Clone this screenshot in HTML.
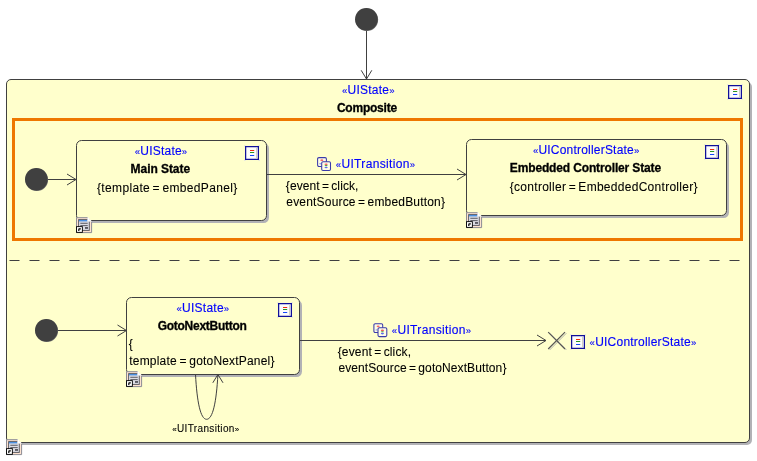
<!DOCTYPE html>
<html lang="en"><head><meta charset="utf-8"><title>UI State Diagram</title>
<style>html,body{margin:0;padding:0;background:#fff;overflow:hidden}svg{display:block;will-change:transform}text{font-family:'Liberation Sans',sans-serif;white-space:pre}</style></head><body>
<svg width="757" height="461" viewBox="0 0 757 461">
<rect width="757" height="461" fill="#ffffff"/>
<circle cx="366.85" cy="19.7" r="11.3" fill="#6c6c6c"/><circle cx="366.35" cy="19.2" r="11.3" fill="#404040"/>
<line x1="366.5" y1="31" x2="366.5" y2="79" stroke="#404040" stroke-width="1"/>
<polyline points="361.2,70.3 366.5,79 371.8,70.3" fill="none" stroke="#404040" stroke-width="1"/>
<rect x="9.0" y="82.0" width="743" height="363" rx="5.0" fill="#b2b2b6"/><rect x="6.5" y="79.5" width="743" height="363" rx="4.5" fill="#FFFFCC" stroke="#404040" stroke-width="1"/>
<text x="341.9" y="93.5" font-size="12" fill="#0000ff" stroke="#0000ff" stroke-width="0.14" textLength="52.7" lengthAdjust="spacing"><tspan font-size="9.6">«</tspan>UIState<tspan font-size="9.6">»</tspan></text>
<text x="336.9" y="111.5" font-size="12" fill="#000" stroke="#000" stroke-width="0.3" font-weight="bold" textLength="60.2" lengthAdjust="spacing">Composite</text>
<g transform="translate(727,84)"><rect x="0.2" y="0.2" width="1.3" height="1.3" fill="#dcdce8"/><rect x="14.5" y="0.2" width="1.3" height="1.3" fill="#dcdce8"/><rect x="0.2" y="14.5" width="1.3" height="1.3" fill="#dcdce8"/><rect x="14.5" y="14.5" width="1.3" height="1.3" fill="#dcdce8"/><rect x="1.62" y="1.62" width="12.76" height="12.76" fill="#fcfcfc" stroke="#10109a" stroke-width="1.25"/><rect x="12" y="2.6" width="1" height="10.8" fill="#d2d0c4"/><rect x="6" y="5" width="4.2" height="1" fill="#f02c0c"/><rect x="6" y="7" width="4.2" height="1" fill="#2a9820"/><rect x="6" y="10" width="4.2" height="1" fill="#1446f8"/></g>
<rect x="13.5" y="119.5" width="728" height="120" fill="none" stroke="#ee7700" stroke-width="3"/>
<line x1="9.5" y1="260.5" x2="742" y2="260.5" stroke="#404040" stroke-width="1" stroke-dasharray="10 10"/>
<circle cx="36.8" cy="179.7" r="11.3" fill="#6c6c6c"/><circle cx="36.3" cy="179.2" r="11.3" fill="#404040"/>
<line x1="48" y1="179.5" x2="76" y2="179.5" stroke="#404040" stroke-width="1"/>
<polyline points="67,174 76,179.5 67,185" fill="none" stroke="#404040" stroke-width="1"/>
<rect x="79.0" y="143.0" width="190" height="80" rx="5.5" fill="#b2b2b6"/><rect x="76.5" y="140.5" width="190" height="80" rx="5" fill="#FFFFCC" stroke="#404040" stroke-width="1"/>
<text x="134.8" y="155.2" font-size="12" fill="#0000ff" stroke="#0000ff" stroke-width="0.14" textLength="52.4" lengthAdjust="spacing"><tspan font-size="9.6">«</tspan>UIState<tspan font-size="9.6">»</tspan></text>
<text x="130.6" y="172.8" font-size="12" fill="#000" stroke="#000" stroke-width="0.3" font-weight="bold" textLength="59.5" lengthAdjust="spacing">Main State</text>
<text x="97" y="191.5" font-size="12" fill="#000" stroke="#000" stroke-width="0.08" textLength="140.3" lengthAdjust="spacing" style="word-spacing:-1.2px">{template = embedPanel}</text>
<g transform="translate(244,145)"><rect x="0.2" y="0.2" width="1.3" height="1.3" fill="#dcdce8"/><rect x="14.5" y="0.2" width="1.3" height="1.3" fill="#dcdce8"/><rect x="0.2" y="14.5" width="1.3" height="1.3" fill="#dcdce8"/><rect x="14.5" y="14.5" width="1.3" height="1.3" fill="#dcdce8"/><rect x="1.62" y="1.62" width="12.76" height="12.76" fill="#fcfcfc" stroke="#10109a" stroke-width="1.25"/><rect x="12" y="2.6" width="1" height="10.8" fill="#d2d0c4"/><rect x="6" y="5" width="4.2" height="1" fill="#f02c0c"/><rect x="6" y="7" width="4.2" height="1" fill="#2a9820"/><rect x="6" y="10" width="4.2" height="1" fill="#1446f8"/></g>
<g transform="translate(76,217)"><path d="M0.5,0.7 H12 L15.6,4.2 V15.6 H0.5 Z" fill="#fde2d0"/><path d="M12,0.7 H0.5 V15.6 H15.6 V4.2" fill="none" stroke="#8c8c94" stroke-width="1"/><rect x="2.6" y="2.6" width="10.7" height="10.8" fill="#dcdce4" stroke="#55555c" stroke-width="0.9"/><rect x="3" y="3" width="8.4" height="1.4" fill="#4a8fe0"/><rect x="4.3" y="5.8" width="7.4" height="0.9" fill="#4c4c54"/><rect x="4.3" y="8.2" width="7.4" height="0.9" fill="#4c4c54"/><rect x="9" y="10.1" width="3" height="1.7" fill="#4c4c54"/><path d="M11.5,0 L16,4.4 H11.5 Z" fill="#ffffff"/><path d="M11.5,0.6 V4.4 H15.6" fill="none" stroke="#d8d8d8" stroke-width="0.5"/><rect x="0.1" y="9.2" width="6.7" height="6.6" fill="#000000"/><rect x="1" y="10.1" width="4.9" height="4.8" fill="#ffffff"/><path d="M2.7,11.3 H4.8 V12.5 H3.4 V13.9 H2.2 V12.5 Z" fill="#000"/></g>
<line x1="267" y1="174.5" x2="466" y2="174.5" stroke="#404040" stroke-width="1"/>
<polyline points="457,169 466,174.5 457,180" fill="none" stroke="#404040" stroke-width="1"/>
<g transform="translate(317,157)"><rect x="0.6" y="0.6" width="8.8" height="8.8" rx="1.3" fill="#fffde6" stroke="#3a3aaa" stroke-width="1.05"/><ellipse cx="4.8" cy="3.2" rx="1.5" ry="0.9" fill="#f46a6a"/><ellipse cx="3.2" cy="6.8" rx="1" ry="0.7" fill="#8aa0ee"/><rect x="4.7" y="4.7" width="8.8" height="8.8" rx="1.3" fill="#fffde6" stroke="#3a3aaa" stroke-width="1.05"/><ellipse cx="9.1" cy="7.3" rx="1.6" ry="0.8" fill="#f45a5a"/><ellipse cx="9.1" cy="8.6" rx="1.5" ry="0.55" fill="#3aa040"/><ellipse cx="9.1" cy="10.5" rx="1.6" ry="0.8" fill="#5a6af0"/></g>
<text x="335.8" y="168.2" font-size="12" fill="#0000ff" stroke="#0000ff" stroke-width="0.14" textLength="79.2" lengthAdjust="spacing"><tspan font-size="9.6">«</tspan>UITransition<tspan font-size="9.6">»</tspan></text>
<text x="285.8" y="190.2" font-size="12" fill="#000" stroke="#000" stroke-width="0.08" textLength="72.6" lengthAdjust="spacing" style="word-spacing:-1.2px">{event = click,</text>
<text x="286.3" y="206" font-size="12" fill="#000" stroke="#000" stroke-width="0.08" textLength="158.7" lengthAdjust="spacing" style="word-spacing:-1.2px">eventSource = embedButton}</text>
<rect x="469.0" y="142.0" width="260" height="76" rx="5.5" fill="#b2b2b6"/><rect x="466.5" y="139.5" width="260" height="76" rx="5" fill="#FFFFCC" stroke="#404040" stroke-width="1"/>
<text x="532.9" y="153.9" font-size="12" fill="#0000ff" stroke="#0000ff" stroke-width="0.14" textLength="106.4" lengthAdjust="spacing"><tspan font-size="9.6">«</tspan>UIControllerState<tspan font-size="9.6">»</tspan></text>
<text x="509.8" y="172" font-size="12" fill="#000" stroke="#000" stroke-width="0.3" font-weight="bold" textLength="151.3" lengthAdjust="spacing">Embedded Controller State</text>
<text x="509.8" y="191" font-size="12" fill="#000" stroke="#000" stroke-width="0.08" textLength="187.7" lengthAdjust="spacing" style="word-spacing:-1.2px">{controller = EmbeddedController}</text>
<g transform="translate(704,144)"><rect x="0.2" y="0.2" width="1.3" height="1.3" fill="#dcdce8"/><rect x="14.5" y="0.2" width="1.3" height="1.3" fill="#dcdce8"/><rect x="0.2" y="14.5" width="1.3" height="1.3" fill="#dcdce8"/><rect x="14.5" y="14.5" width="1.3" height="1.3" fill="#dcdce8"/><rect x="1.62" y="1.62" width="12.76" height="12.76" fill="#fcfcfc" stroke="#10109a" stroke-width="1.25"/><rect x="12" y="2.6" width="1" height="10.8" fill="#d2d0c4"/><rect x="6" y="5" width="4.2" height="1" fill="#f02c0c"/><rect x="6" y="7" width="4.2" height="1" fill="#2a9820"/><rect x="6" y="10" width="4.2" height="1" fill="#1446f8"/></g>
<g transform="translate(466,212)"><path d="M0.5,0.7 H12 L15.6,4.2 V15.6 H0.5 Z" fill="#fde2d0"/><path d="M12,0.7 H0.5 V15.6 H15.6 V4.2" fill="none" stroke="#8c8c94" stroke-width="1"/><rect x="2.6" y="2.6" width="10.7" height="10.8" fill="#dcdce4" stroke="#55555c" stroke-width="0.9"/><rect x="3" y="3" width="8.4" height="1.4" fill="#4a8fe0"/><rect x="4.3" y="5.8" width="7.4" height="0.9" fill="#4c4c54"/><rect x="4.3" y="8.2" width="7.4" height="0.9" fill="#4c4c54"/><rect x="9" y="10.1" width="3" height="1.7" fill="#4c4c54"/><path d="M11.5,0 L16,4.4 H11.5 Z" fill="#ffffff"/><path d="M11.5,0.6 V4.4 H15.6" fill="none" stroke="#d8d8d8" stroke-width="0.5"/><rect x="0.1" y="9.2" width="6.7" height="6.6" fill="#000000"/><rect x="1" y="10.1" width="4.9" height="4.8" fill="#ffffff"/><path d="M2.7,11.3 H4.8 V12.5 H3.4 V13.9 H2.2 V12.5 Z" fill="#000"/></g>
<circle cx="46.8" cy="330.7" r="11.3" fill="#6c6c6c"/><circle cx="46.3" cy="330.2" r="11.3" fill="#404040"/>
<line x1="58" y1="330.5" x2="126.5" y2="330.5" stroke="#404040" stroke-width="1"/>
<polyline points="117.5,325 126.5,330.5 117.5,336" fill="none" stroke="#404040" stroke-width="1"/>
<rect x="129.0" y="300.0" width="173" height="77" rx="5.5" fill="#b2b2b6"/><rect x="126.5" y="297.5" width="173" height="77" rx="5" fill="#FFFFCC" stroke="#404040" stroke-width="1"/>
<text x="176.5" y="312" font-size="12" fill="#0000ff" stroke="#0000ff" stroke-width="0.14" textLength="52.7" lengthAdjust="spacing"><tspan font-size="9.6">«</tspan>UIState<tspan font-size="9.6">»</tspan></text>
<text x="157.7" y="330.2" font-size="12" fill="#000" stroke="#000" stroke-width="0.3" font-weight="bold" textLength="89.1" lengthAdjust="spacing">GotoNextButton</text>
<text x="128.8" y="348" font-size="12" fill="#000" stroke="#000" stroke-width="0.08">{</text>
<text x="129.3" y="364.8" font-size="12" fill="#000" stroke="#000" stroke-width="0.08" textLength="145.1" lengthAdjust="spacing" style="word-spacing:-0.8px">template = gotoNextPanel}</text>
<g transform="translate(277,302)"><rect x="0.2" y="0.2" width="1.3" height="1.3" fill="#dcdce8"/><rect x="14.5" y="0.2" width="1.3" height="1.3" fill="#dcdce8"/><rect x="0.2" y="14.5" width="1.3" height="1.3" fill="#dcdce8"/><rect x="14.5" y="14.5" width="1.3" height="1.3" fill="#dcdce8"/><rect x="1.62" y="1.62" width="12.76" height="12.76" fill="#fcfcfc" stroke="#10109a" stroke-width="1.25"/><rect x="12" y="2.6" width="1" height="10.8" fill="#d2d0c4"/><rect x="6" y="5" width="4.2" height="1" fill="#f02c0c"/><rect x="6" y="7" width="4.2" height="1" fill="#2a9820"/><rect x="6" y="10" width="4.2" height="1" fill="#1446f8"/></g>
<g transform="translate(126,371)"><path d="M0.5,0.7 H12 L15.6,4.2 V15.6 H0.5 Z" fill="#fde2d0"/><path d="M12,0.7 H0.5 V15.6 H15.6 V4.2" fill="none" stroke="#8c8c94" stroke-width="1"/><rect x="2.6" y="2.6" width="10.7" height="10.8" fill="#dcdce4" stroke="#55555c" stroke-width="0.9"/><rect x="3" y="3" width="8.4" height="1.4" fill="#4a8fe0"/><rect x="4.3" y="5.8" width="7.4" height="0.9" fill="#4c4c54"/><rect x="4.3" y="8.2" width="7.4" height="0.9" fill="#4c4c54"/><rect x="9" y="10.1" width="3" height="1.7" fill="#4c4c54"/><path d="M11.5,0 L16,4.4 H11.5 Z" fill="#ffffff"/><path d="M11.5,0.6 V4.4 H15.6" fill="none" stroke="#d8d8d8" stroke-width="0.5"/><rect x="0.1" y="9.2" width="6.7" height="6.6" fill="#000000"/><rect x="1" y="10.1" width="4.9" height="4.8" fill="#ffffff"/><path d="M2.7,11.3 H4.8 V12.5 H3.4 V13.9 H2.2 V12.5 Z" fill="#000"/></g>
<path d="M195.5,374.5 C197,402 200.5,419.3 206.6,419.3 C212.8,419.3 216.4,402 217.9,374.5" fill="none" stroke="#404040" stroke-width="1"/>
<polyline points="212.8,382.8 217.9,374.5 223,382.8" fill="none" stroke="#404040" stroke-width="1"/>
<text x="172.2" y="432" font-size="10" fill="#000" stroke="#000" stroke-width="0.08" textLength="67" lengthAdjust="spacing"><tspan font-size="8.0">«</tspan>UITransition<tspan font-size="8.0">»</tspan></text>
<line x1="300" y1="340.5" x2="546" y2="340.5" stroke="#404040" stroke-width="1"/>
<polyline points="537,335 546,340.5 537,346" fill="none" stroke="#404040" stroke-width="1"/>
<g transform="translate(373.3,323.1)"><rect x="0.6" y="0.6" width="8.8" height="8.8" rx="1.3" fill="#fffde6" stroke="#3a3aaa" stroke-width="1.05"/><ellipse cx="4.8" cy="3.2" rx="1.5" ry="0.9" fill="#f46a6a"/><ellipse cx="3.2" cy="6.8" rx="1" ry="0.7" fill="#8aa0ee"/><rect x="4.7" y="4.7" width="8.8" height="8.8" rx="1.3" fill="#fffde6" stroke="#3a3aaa" stroke-width="1.05"/><ellipse cx="9.1" cy="7.3" rx="1.6" ry="0.8" fill="#f45a5a"/><ellipse cx="9.1" cy="8.6" rx="1.5" ry="0.55" fill="#3aa040"/><ellipse cx="9.1" cy="10.5" rx="1.6" ry="0.8" fill="#5a6af0"/></g>
<text x="391.7" y="334.4" font-size="12" fill="#0000ff" stroke="#0000ff" stroke-width="0.14" textLength="79.5" lengthAdjust="spacing"><tspan font-size="9.6">«</tspan>UITransition<tspan font-size="9.6">»</tspan></text>
<text x="337.7" y="356" font-size="12" fill="#000" stroke="#000" stroke-width="0.08" textLength="73.3" lengthAdjust="spacing" style="word-spacing:-1.2px">{event = click,</text>
<text x="338.4" y="372" font-size="12" fill="#000" stroke="#000" stroke-width="0.08" textLength="168" lengthAdjust="spacing" style="word-spacing:-1.2px">eventSource = gotoNextButton}</text>
<path d="M549.6,333.2 L566.4,350 M566.4,333.2 L549.6,350" stroke="#b4b4ac" stroke-width="1" fill="none"/>
<path d="M548.2,332.2 L565,349 M565,332.2 L548.2,349" stroke="#555555" stroke-width="1.2" fill="none"/>
<g transform="translate(570,334)"><rect x="0.2" y="0.2" width="1.3" height="1.3" fill="#dcdce8"/><rect x="14.5" y="0.2" width="1.3" height="1.3" fill="#dcdce8"/><rect x="0.2" y="14.5" width="1.3" height="1.3" fill="#dcdce8"/><rect x="14.5" y="14.5" width="1.3" height="1.3" fill="#dcdce8"/><rect x="1.62" y="1.62" width="12.76" height="12.76" fill="#fcfcfc" stroke="#10109a" stroke-width="1.25"/><rect x="12" y="2.6" width="1" height="10.8" fill="#d2d0c4"/><rect x="6" y="5" width="4.2" height="1" fill="#f02c0c"/><rect x="6" y="7" width="4.2" height="1" fill="#2a9820"/><rect x="6" y="10" width="4.2" height="1" fill="#1446f8"/></g>
<text x="589.6" y="345.7" font-size="12" fill="#0000ff" stroke="#0000ff" stroke-width="0.14" textLength="106.7" lengthAdjust="spacing"><tspan font-size="9.6">«</tspan>UIControllerState<tspan font-size="9.6">»</tspan></text>
<g transform="translate(6,439)"><path d="M0.5,0.7 H12 L15.6,4.2 V15.6 H0.5 Z" fill="#fde2d0"/><path d="M12,0.7 H0.5 V15.6 H15.6 V4.2" fill="none" stroke="#8c8c94" stroke-width="1"/><rect x="2.6" y="2.6" width="10.7" height="10.8" fill="#dcdce4" stroke="#55555c" stroke-width="0.9"/><rect x="3" y="3" width="8.4" height="1.4" fill="#4a8fe0"/><rect x="4.3" y="5.8" width="7.4" height="0.9" fill="#4c4c54"/><rect x="4.3" y="8.2" width="7.4" height="0.9" fill="#4c4c54"/><rect x="9" y="10.1" width="3" height="1.7" fill="#4c4c54"/><path d="M11.5,0 L16,4.4 H11.5 Z" fill="#ffffff"/><path d="M11.5,0.6 V4.4 H15.6" fill="none" stroke="#d8d8d8" stroke-width="0.5"/><rect x="0.1" y="9.2" width="6.7" height="6.6" fill="#000000"/><rect x="1" y="10.1" width="4.9" height="4.8" fill="#ffffff"/><path d="M2.7,11.3 H4.8 V12.5 H3.4 V13.9 H2.2 V12.5 Z" fill="#000"/></g>
</svg></body></html>
